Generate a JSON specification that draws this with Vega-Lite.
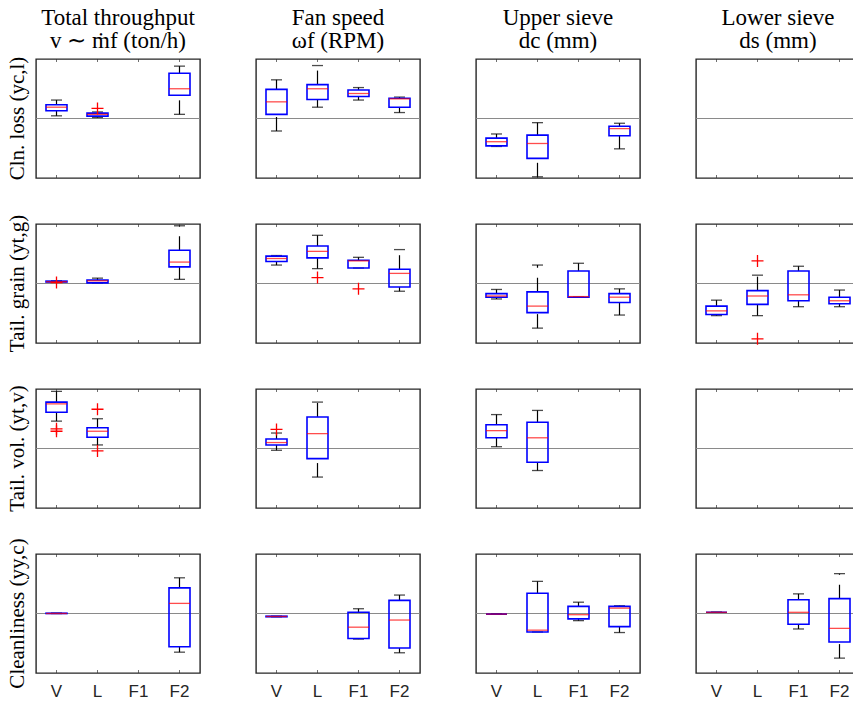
{
  "$schema": "https://vega.github.io/schema/vega-lite/v6.json",
  "background": "white",
  "padding": {"left": 6, "top": 7, "right": 0, "bottom": 34},
  "bounds": "flush",
  "datasets": {
    "stats": [
      {"k": "t", "m": "Cln. loss", "p": "Total throughput", "c": "V"}, {"k": "t", "m": "Cln. loss", "p": "Total throughput", "c": "L"}, {"k": "t", "m": "Cln. loss", "p": "Total throughput", "c": "F1"}, {"k": "t", "m": "Cln. loss", "p": "Total throughput", "c": "F2"},
      {"k": "t", "m": "Cln. loss", "p": "Fan speed", "c": "V"}, {"k": "t", "m": "Cln. loss", "p": "Fan speed", "c": "L"}, {"k": "t", "m": "Cln. loss", "p": "Fan speed", "c": "F1"}, {"k": "t", "m": "Cln. loss", "p": "Fan speed", "c": "F2"},
      {"k": "t", "m": "Cln. loss", "p": "Upper sieve", "c": "V"}, {"k": "t", "m": "Cln. loss", "p": "Upper sieve", "c": "L"}, {"k": "t", "m": "Cln. loss", "p": "Upper sieve", "c": "F1"}, {"k": "t", "m": "Cln. loss", "p": "Upper sieve", "c": "F2"},
      {"k": "t", "m": "Cln. loss", "p": "Lower sieve", "c": "V"}, {"k": "t", "m": "Cln. loss", "p": "Lower sieve", "c": "L"}, {"k": "t", "m": "Cln. loss", "p": "Lower sieve", "c": "F1"}, {"k": "t", "m": "Cln. loss", "p": "Lower sieve", "c": "F2"},
      {"k": "t", "m": "Tail. grain", "p": "Total throughput", "c": "V"}, {"k": "t", "m": "Tail. grain", "p": "Total throughput", "c": "L"}, {"k": "t", "m": "Tail. grain", "p": "Total throughput", "c": "F1"}, {"k": "t", "m": "Tail. grain", "p": "Total throughput", "c": "F2"},
      {"k": "t", "m": "Tail. grain", "p": "Fan speed", "c": "V"}, {"k": "t", "m": "Tail. grain", "p": "Fan speed", "c": "L"}, {"k": "t", "m": "Tail. grain", "p": "Fan speed", "c": "F1"}, {"k": "t", "m": "Tail. grain", "p": "Fan speed", "c": "F2"},
      {"k": "t", "m": "Tail. grain", "p": "Upper sieve", "c": "V"}, {"k": "t", "m": "Tail. grain", "p": "Upper sieve", "c": "L"}, {"k": "t", "m": "Tail. grain", "p": "Upper sieve", "c": "F1"}, {"k": "t", "m": "Tail. grain", "p": "Upper sieve", "c": "F2"},
      {"k": "t", "m": "Tail. grain", "p": "Lower sieve", "c": "V"}, {"k": "t", "m": "Tail. grain", "p": "Lower sieve", "c": "L"}, {"k": "t", "m": "Tail. grain", "p": "Lower sieve", "c": "F1"}, {"k": "t", "m": "Tail. grain", "p": "Lower sieve", "c": "F2"},
      {"k": "t", "m": "Tail. vol.", "p": "Total throughput", "c": "V"}, {"k": "t", "m": "Tail. vol.", "p": "Total throughput", "c": "L"}, {"k": "t", "m": "Tail. vol.", "p": "Total throughput", "c": "F1"}, {"k": "t", "m": "Tail. vol.", "p": "Total throughput", "c": "F2"},
      {"k": "t", "m": "Tail. vol.", "p": "Fan speed", "c": "V"}, {"k": "t", "m": "Tail. vol.", "p": "Fan speed", "c": "L"}, {"k": "t", "m": "Tail. vol.", "p": "Fan speed", "c": "F1"}, {"k": "t", "m": "Tail. vol.", "p": "Fan speed", "c": "F2"},
      {"k": "t", "m": "Tail. vol.", "p": "Upper sieve", "c": "V"}, {"k": "t", "m": "Tail. vol.", "p": "Upper sieve", "c": "L"}, {"k": "t", "m": "Tail. vol.", "p": "Upper sieve", "c": "F1"}, {"k": "t", "m": "Tail. vol.", "p": "Upper sieve", "c": "F2"},
      {"k": "t", "m": "Tail. vol.", "p": "Lower sieve", "c": "V"}, {"k": "t", "m": "Tail. vol.", "p": "Lower sieve", "c": "L"}, {"k": "t", "m": "Tail. vol.", "p": "Lower sieve", "c": "F1"}, {"k": "t", "m": "Tail. vol.", "p": "Lower sieve", "c": "F2"},
      {"k": "t", "m": "Cleanliness", "p": "Total throughput", "c": "V"}, {"k": "t", "m": "Cleanliness", "p": "Total throughput", "c": "L"}, {"k": "t", "m": "Cleanliness", "p": "Total throughput", "c": "F1"}, {"k": "t", "m": "Cleanliness", "p": "Total throughput", "c": "F2"},
      {"k": "t", "m": "Cleanliness", "p": "Fan speed", "c": "V"}, {"k": "t", "m": "Cleanliness", "p": "Fan speed", "c": "L"}, {"k": "t", "m": "Cleanliness", "p": "Fan speed", "c": "F1"}, {"k": "t", "m": "Cleanliness", "p": "Fan speed", "c": "F2"},
      {"k": "t", "m": "Cleanliness", "p": "Upper sieve", "c": "V"}, {"k": "t", "m": "Cleanliness", "p": "Upper sieve", "c": "L"}, {"k": "t", "m": "Cleanliness", "p": "Upper sieve", "c": "F1"}, {"k": "t", "m": "Cleanliness", "p": "Upper sieve", "c": "F2"},
      {"k": "t", "m": "Cleanliness", "p": "Lower sieve", "c": "V"}, {"k": "t", "m": "Cleanliness", "p": "Lower sieve", "c": "L"}, {"k": "t", "m": "Cleanliness", "p": "Lower sieve", "c": "F1"}, {"k": "t", "m": "Cleanliness", "p": "Lower sieve", "c": "F2"},

      {"k": "box", "m": "Cln. loss", "p": "Total throughput", "c": "V", "lo": 0.045, "q1": 0.13, "md": 0.19, "q3": 0.23, "hi": 0.31},
      {"k": "box", "m": "Cln. loss", "p": "Total throughput", "c": "L", "lo": 0.017, "q1": 0.04, "md": 0.07, "q3": 0.09, "hi": 0.11},
      {"k": "box", "m": "Cln. loss", "p": "Total throughput", "c": "F2", "lo": 0.07, "q1": 0.39, "md": 0.5, "q3": 0.76, "hi": 0.88},
      {"k": "box", "m": "Cln. loss", "p": "Fan speed", "c": "V", "lo": -0.21, "q1": 0.07, "md": 0.28, "q3": 0.49, "hi": 0.65},
      {"k": "box", "m": "Cln. loss", "p": "Fan speed", "c": "L", "lo": 0.19, "q1": 0.32, "md": 0.5, "q3": 0.57, "hi": 0.89},
      {"k": "box", "m": "Cln. loss", "p": "Fan speed", "c": "F1", "lo": 0.31, "q1": 0.37, "md": 0.42, "q3": 0.48, "hi": 0.52},
      {"k": "box", "m": "Cln. loss", "p": "Fan speed", "c": "F2", "lo": 0.1, "q1": 0.19, "md": 0.33, "q3": 0.34, "hi": 0.36},
      {"k": "box", "m": "Cln. loss", "p": "Upper sieve", "c": "V", "lo": -0.47, "q1": -0.46, "md": -0.39, "q3": -0.33, "hi": -0.26},
      {"k": "box", "m": "Cln. loss", "p": "Upper sieve", "c": "L", "lo": -0.98, "q1": -0.67, "md": -0.42, "q3": -0.28, "hi": -0.07},
      {"k": "box", "m": "Cln. loss", "p": "Upper sieve", "c": "F2", "lo": -0.51, "q1": -0.29, "md": -0.17, "q3": -0.13, "hi": -0.08},

      {"k": "box", "m": "Tail. grain", "p": "Total throughput", "c": "V", "lo": 0.02, "q1": 0.025, "md": 0.03, "q3": 0.04, "hi": 0.045},
      {"k": "box", "m": "Tail. grain", "p": "Total throughput", "c": "L", "lo": 0.01, "q1": 0.01, "md": 0.045, "q3": 0.06, "hi": 0.09},
      {"k": "box", "m": "Tail. grain", "p": "Total throughput", "c": "F2", "lo": 0.07, "q1": 0.28, "md": 0.36, "q3": 0.56, "hi": 0.97},
      {"k": "box", "m": "Tail. grain", "p": "Fan speed", "c": "V", "lo": 0.31, "q1": 0.37, "md": 0.42, "q3": 0.46, "hi": 0.47},
      {"k": "box", "m": "Tail. grain", "p": "Fan speed", "c": "L", "lo": 0.25, "q1": 0.43, "md": 0.54, "q3": 0.63, "hi": 0.81},
      {"k": "box", "m": "Tail. grain", "p": "Fan speed", "c": "F1", "lo": 0.26, "q1": 0.26, "md": 0.38, "q3": 0.39, "hi": 0.44},
      {"k": "box", "m": "Tail. grain", "p": "Fan speed", "c": "F2", "lo": -0.13, "q1": -0.06, "md": 0.17, "q3": 0.24, "hi": 0.57},
      {"k": "box", "m": "Tail. grain", "p": "Upper sieve", "c": "V", "lo": -0.26, "q1": -0.23, "md": -0.21, "q3": -0.17, "hi": -0.1},
      {"k": "box", "m": "Tail. grain", "p": "Upper sieve", "c": "L", "lo": -0.75, "q1": -0.49, "md": -0.38, "q3": -0.14, "hi": 0.31},
      {"k": "box", "m": "Tail. grain", "p": "Upper sieve", "c": "F1", "lo": -0.23, "q1": -0.23, "md": -0.22, "q3": 0.21, "hi": 0.34},
      {"k": "box", "m": "Tail. grain", "p": "Upper sieve", "c": "F2", "lo": -0.53, "q1": -0.32, "md": -0.23, "q3": -0.17, "hi": -0.09},
      {"k": "box", "m": "Tail. grain", "p": "Lower sieve", "c": "V", "lo": -0.54, "q1": -0.52, "md": -0.46, "q3": -0.38, "hi": -0.28},
      {"k": "box", "m": "Tail. grain", "p": "Lower sieve", "c": "L", "lo": -0.54, "q1": -0.35, "md": -0.21, "q3": -0.12, "hi": 0.14},
      {"k": "box", "m": "Tail. grain", "p": "Lower sieve", "c": "F1", "lo": -0.39, "q1": -0.29, "md": -0.19, "q3": 0.21, "hi": 0.29},
      {"k": "box", "m": "Tail. grain", "p": "Lower sieve", "c": "F2", "lo": -0.39, "q1": -0.34, "md": -0.29, "q3": -0.23, "hi": -0.11},

      {"k": "box", "m": "Tail. vol.", "p": "Total throughput", "c": "V", "lo": 0.46, "q1": 0.61, "md": 0.75, "q3": 0.78, "hi": 0.96},
      {"k": "box", "m": "Tail. vol.", "p": "Total throughput", "c": "L", "lo": 0.06, "q1": 0.19, "md": 0.29, "q3": 0.35, "hi": 0.5},
      {"k": "box", "m": "Tail. vol.", "p": "Fan speed", "c": "V", "lo": -0.03, "q1": 0.06, "md": 0.1, "q3": 0.16, "hi": 0.26},
      {"k": "box", "m": "Tail. vol.", "p": "Fan speed", "c": "L", "lo": -0.48, "q1": -0.17, "md": 0.25, "q3": 0.53, "hi": 0.78},
      {"k": "box", "m": "Tail. vol.", "p": "Upper sieve", "c": "V", "lo": 0.03, "q1": 0.18, "md": 0.3, "q3": 0.4, "hi": 0.57},
      {"k": "box", "m": "Tail. vol.", "p": "Upper sieve", "c": "L", "lo": -0.37, "q1": -0.23, "md": 0.18, "q3": 0.44, "hi": 0.64},

      {"k": "box", "m": "Cleanliness", "p": "Total throughput", "c": "V", "lo": 0, "q1": 0, "md": 0, "q3": 0.005, "hi": 0.005},
      {"k": "box", "m": "Cleanliness", "p": "Total throughput", "c": "F2", "lo": -0.65, "q1": -0.56, "md": 0.17, "q3": 0.43, "hi": 0.6},
      {"k": "box", "m": "Cleanliness", "p": "Fan speed", "c": "V", "lo": -0.055, "q1": -0.055, "md": -0.05, "q3": -0.045, "hi": -0.045},
      {"k": "box", "m": "Cleanliness", "p": "Fan speed", "c": "F1", "lo": -0.43, "q1": -0.42, "md": -0.23, "q3": 0.02, "hi": 0.08},
      {"k": "box", "m": "Cleanliness", "p": "Fan speed", "c": "F2", "lo": -0.66, "q1": -0.58, "md": -0.11, "q3": 0.22, "hi": 0.31},
      {"k": "box", "m": "Cleanliness", "p": "Upper sieve", "c": "V", "lo": -0.01, "q1": -0.01, "md": -0.01, "q3": -0.01, "hi": -0.01},
      {"k": "box", "m": "Cleanliness", "p": "Upper sieve", "c": "L", "lo": -0.31, "q1": -0.31, "md": -0.28, "q3": 0.34, "hi": 0.54},
      {"k": "box", "m": "Cleanliness", "p": "Upper sieve", "c": "F1", "lo": -0.12, "q1": -0.09, "md": -0.02, "q3": 0.12, "hi": 0.19},
      {"k": "box", "m": "Cleanliness", "p": "Upper sieve", "c": "F2", "lo": -0.32, "q1": -0.22, "md": 0.09, "q3": 0.12, "hi": 0.13},
      {"k": "box", "m": "Cleanliness", "p": "Lower sieve", "c": "V", "lo": 0.02, "q1": 0.02, "md": 0.02, "q3": 0.02, "hi": 0.02},
      {"k": "box", "m": "Cleanliness", "p": "Lower sieve", "c": "F1", "lo": -0.26, "q1": -0.18, "md": 0.02, "q3": 0.23, "hi": 0.33},
      {"k": "box", "m": "Cleanliness", "p": "Lower sieve", "c": "F2", "lo": -0.75, "q1": -0.48, "md": -0.25, "q3": 0.25, "hi": 0.67},

      {"k": "out", "m": "Cln. loss", "p": "Total throughput", "c": "L", "o": 0.17},
      {"k": "out", "m": "Tail. grain", "p": "Total throughput", "c": "V", "o": 0.015},
      {"k": "out", "m": "Tail. grain", "p": "Fan speed", "c": "L", "o": 0.1},
      {"k": "out", "m": "Tail. grain", "p": "Fan speed", "c": "F1", "o": -0.09},
      {"k": "out", "m": "Tail. grain", "p": "Lower sieve", "c": "L", "o": 0.38},
      {"k": "out", "m": "Tail. grain", "p": "Lower sieve", "c": "L", "o": -0.93},
      {"k": "out", "m": "Tail. vol.", "p": "Total throughput", "c": "V", "o": 0.33},
      {"k": "out", "m": "Tail. vol.", "p": "Total throughput", "c": "V", "o": 0.29},
      {"k": "out", "m": "Tail. vol.", "p": "Total throughput", "c": "L", "o": 0.66},
      {"k": "out", "m": "Tail. vol.", "p": "Total throughput", "c": "L", "o": -0.04},
      {"k": "out", "m": "Tail. vol.", "p": "Fan speed", "c": "V", "o": 0.32}
    ]
  },
  "data": {"name": "stats"},
  "facet": {
    "row": {"field": "m", "type": "nominal", "title": null,
      "sort": ["Cln. loss", "Tail. grain", "Tail. vol.", "Cleanliness"],
      "header": {
        "labelExpr": "datum.value == 'Cln. loss' ? 'Cln. loss (yc,l)' : datum.value == 'Tail. grain' ? 'Tail. grain (yt,g)' : datum.value == 'Tail. vol.' ? 'Tail. vol. (yt,v)' : 'Cleanliness (yy,c)'",
        "labelOrient": "left", "labelAngle": -90, "labelAlign": "center",
        "labelFont": "Liberation Serif", "labelFontSize": 21,
        "labelColor": "#000000", "labelPadding": -3
      }},
    "column": {"field": "p", "type": "nominal", "title": null,
      "sort": ["Total throughput", "Fan speed", "Upper sieve", "Lower sieve"],
      "header": {
        "labelExpr": "datum.value == 'Total throughput' ? ['Total throughput', 'v ∼ ṁf (ton/h)\u00a0\u00a0\u00a0\u00a0\u00a0\u00a0'] : datum.value == 'Fan speed' ? ['Fan speed', 'ωf (RPM)'] : datum.value == 'Upper sieve' ? ['Upper sieve', 'dc (mm)\u00a0\u00a0\u00a0\u00a0\u00a0\u00a0\u00a0\u00a0\u00a0'] : ['Lower sieve', 'ds (mm)\u00a0\u00a0\u00a0\u00a0\u00a0\u00a0\u00a0\u00a0\u00a0\u00a0\u00a0\u00a0']",
        "labelFont": "Liberation Serif", "labelFontSize": 23, "labelLineHeight": 23,
        "labelColor": "#000000", "labelPadding": 6
      }}
  },
  "spacing": {"row": 46, "column": 56},
  "spec": {
    "width": 164, "height": 119,
    "layer": [
      {"transform": [{"filter": "datum.k == 't' && datum.c == 'V'"}], "mark": {"type": "rule", "color": "#8a8a8a", "strokeWidth": 1}, "encoding": {"y": {"datum": 0, "type": "quantitative"}}},
      {"transform": [{"filter": "datum.k == 't'"}], "mark": {"type": "tick", "orient": "vertical", "color": "#333333", "size": 6, "thickness": 1, "clip": true}, "encoding": {"x": {"field": "c", "type": "nominal", "title": null}, "y": {"datum": -1, "type": "quantitative"}}},
      {"transform": [{"filter": "datum.k == 't'"}], "mark": {"type": "tick", "orient": "vertical", "color": "#333333", "size": 6, "thickness": 1, "clip": true}, "encoding": {"x": {"field": "c", "type": "nominal", "title": null}, "y": {"datum": 1, "type": "quantitative"}}},
      {"transform": [{"filter": "datum.k == 'box'"}], "mark": {"type": "rule", "color": "#000000", "strokeWidth": 1.2, "strokeDash": [14, 10]}, "encoding": {"x": {"field": "c", "type": "nominal", "title": null}, "y": {"field": "lo", "type": "quantitative", "title": null}, "y2": {"field": "q1"}}},
      {"transform": [{"filter": "datum.k == 'box'"}], "mark": {"type": "rule", "color": "#000000", "strokeWidth": 1.2, "strokeDash": [14, 10]}, "encoding": {"x": {"field": "c", "type": "nominal", "title": null}, "y": {"field": "q3", "type": "quantitative", "title": null}, "y2": {"field": "hi"}}},
      {"transform": [{"filter": "datum.k == 'box'"}], "mark": {"type": "tick", "color": "#000000", "size": 11, "thickness": 1.3}, "encoding": {"x": {"field": "c", "type": "nominal", "title": null}, "y": {"field": "lo", "type": "quantitative", "title": null}}},
      {"transform": [{"filter": "datum.k == 'box'"}], "mark": {"type": "tick", "color": "#000000", "size": 11, "thickness": 1.3}, "encoding": {"x": {"field": "c", "type": "nominal", "title": null}, "y": {"field": "hi", "type": "quantitative", "title": null}}},
      {"transform": [{"filter": "datum.k == 'box'"}], "mark": {"type": "bar", "fillOpacity": 0, "stroke": "#0000ff", "strokeWidth": 1.6, "size": 21},
        "encoding": {
          "x": {"field": "c", "type": "nominal", "title": null, "sort": ["V", "L", "F1", "F2"], "scale": {"type": "band", "domain": ["V", "L", "F1", "F2"], "paddingInner": 0, "paddingOuter": 0}},
          "y": {"field": "q1", "type": "quantitative", "title": null, "scale": {"domain": [-1, 1], "nice": false, "zero": false}},
          "y2": {"field": "q3"}}},
      {"transform": [{"filter": "datum.k == 'box'"}], "mark": {"type": "tick", "color": "#ff0000", "size": 21, "thickness": 1.3}, "encoding": {"x": {"field": "c", "type": "nominal", "title": null}, "y": {"field": "md", "type": "quantitative", "title": null}}},
      {"transform": [{"filter": "datum.k == 'out'"}], "mark": {"type": "point", "shape": "M-1,0H1M0,-1V1", "color": "#ff0000", "stroke": "#ff0000", "strokeWidth": 1.3, "size": 144, "filled": false, "opacity": 1}, "encoding": {"x": {"field": "c", "type": "nominal", "title": null}, "y": {"field": "o", "type": "quantitative", "title": null}}}
    ]
  },
  "config": {
    "view": {"stroke": "#262626", "strokeWidth": 1.4},
    "axisY": {"labels": false, "ticks": false, "domain": false, "grid": false},
    "axisX": {"domain": false, "grid": false, "ticks": false, "orient": "bottom",
      "labelAngle": 0, "labelFont": "Liberation Sans", "labelFontSize": 17, "labelColor": "#262626",
      "labelPadding": 10}
  }
}
